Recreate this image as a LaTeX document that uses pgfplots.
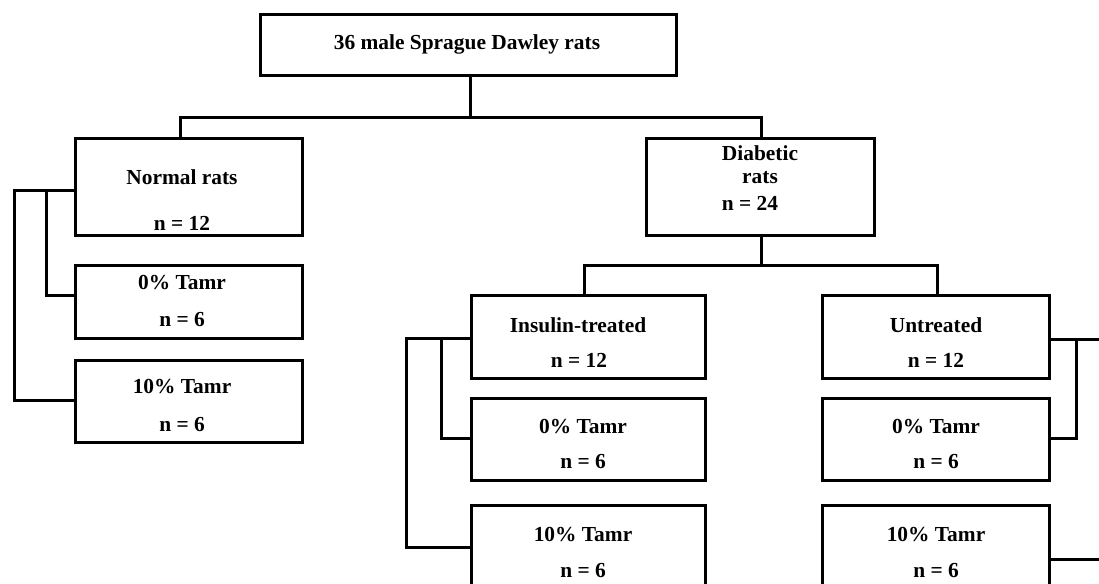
\documentclass[border=0pt]{standalone}
\usepackage{pgfplots}
\pgfplotsset{compat=1.18}
\usepackage{fontspec}
\setmainfont{Liberation Serif}
\begin{document}
\begin{tikzpicture}
\begin{axis}[
  name=ax,
  scale only axis, width=549.5pt, height=291.5pt,
  xmin=0, xmax=1099, ymin=0, ymax=583, y dir=reverse,
  hide axis, clip=true,
  fl/.style={draw=black, solid, line width=1.5pt, mark=none, line cap=rect, line join=miter},
]
% boxes
\addplot[fl] coordinates {(260,14) (676,14) (676,75) (260,75) (260,14)};
\addplot[fl] coordinates {(75,138) (302,138) (302,235) (75,235) (75,138)};
\addplot[fl] coordinates {(75,265) (302,265) (302,338) (75,338) (75,265)};
\addplot[fl] coordinates {(75,360) (302,360) (302,442) (75,442) (75,360)};
\addplot[fl] coordinates {(646,138) (874,138) (874,235) (646,235) (646,138)};
\addplot[fl] coordinates {(471,295) (705,295) (705,378) (471,378) (471,295)};
\addplot[fl] coordinates {(471,398) (705,398) (705,480) (471,480) (471,398)};
\addplot[fl] coordinates {(471,505) (705,505) (705,600) (471,600) (471,505)};
\addplot[fl] coordinates {(822,295) (1049,295) (1049,378) (822,378) (822,295)};
\addplot[fl] coordinates {(822,398) (1049,398) (1049,480) (822,480) (822,398)};
\addplot[fl] coordinates {(822,505) (1049,505) (1049,600) (822,600) (822,505)};
% connectors
\addplot[fl] coordinates {(470,75) (470,117)};
\addplot[fl] coordinates {(180,138) (180,117) (761,117) (761,138)};
\addplot[fl] coordinates {(761,235) (761,265)};
\addplot[fl] coordinates {(584,295) (584,265) (937,265) (937,295)};
\addplot[fl] coordinates {(75,190) (14,190) (14,400) (75,400)};
\addplot[fl] coordinates {(46,190) (46,295) (75,295)};
\addplot[fl] coordinates {(471,338) (406,338) (406,547) (471,547)};
\addplot[fl] coordinates {(441,338) (441,438) (471,438)};
\addplot[fl] coordinates {(1049,339) (1105,339)};
\addplot[fl] coordinates {(1076,339) (1076,438) (1049,438)};
\addplot[fl] coordinates {(1049,559) (1105,559)};
% labels
\begin{scope}[every node/.style={font=\fontsize{10.7}{12}\selectfont\bfseries, inner sep=0pt}]
\node at (axis cs:467,44) {36 male Sprague Dawley rats};
\node at (axis cs:182,177) {Normal rats};
\node at (axis cs:182,223) {n = 12};
\node at (axis cs:182,283) {0\% Tamr};
\node at (axis cs:182,320) {n = 6};
\node at (axis cs:182,387) {10\% Tamr};
\node at (axis cs:182,425) {n = 6};
\node at (axis cs:760,153) {Diabetic};
\node at (axis cs:760,178) {rats};
\node at (axis cs:750,203) {n = 24};
\node at (axis cs:578,325) {Insulin-treated};
\node at (axis cs:579,360) {n = 12};
\node at (axis cs:583,427) {0\% Tamr};
\node at (axis cs:583,462) {n = 6};
\node at (axis cs:583,535) {10\% Tamr};
\node at (axis cs:583,570) {n = 6};
\node at (axis cs:936,325) {Untreated};
\node at (axis cs:936,360) {n = 12};
\node at (axis cs:936,427) {0\% Tamr};
\node at (axis cs:936,462) {n = 6};
\node at (axis cs:936,535) {10\% Tamr};
\node at (axis cs:936,570) {n = 6};
\end{scope}
\end{axis}
\pgfresetboundingbox
\useasboundingbox (ax.south west) rectangle (ax.north east);
\end{tikzpicture}
\end{document}
